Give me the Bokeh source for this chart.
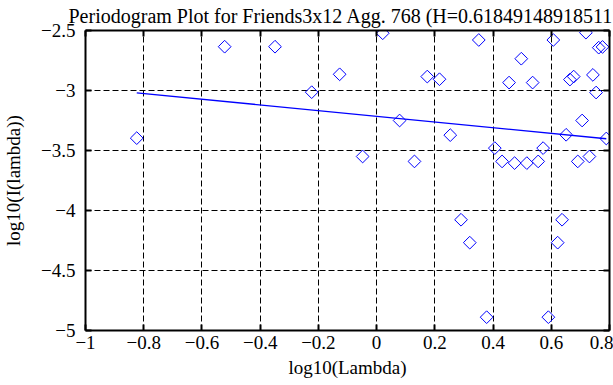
import numpy as np
from bokeh.plotting import figure
from bokeh.models import (LinearAxis, FixedTicker, CustomJSTickFormatter, Title,
                          ColumnDataSource)
from bokeh.embed import file_html
from bokeh.resources import INLINE

# ---- data ----
log_lambda = [-0.824, -0.522, -0.349, -0.223, -0.127, -0.048, 0.021, 0.079,
              0.130, 0.174, 0.216, 0.253, 0.290, 0.320, 0.351, 0.378, 0.406,
              0.431, 0.455, 0.474, 0.497, 0.516, 0.536, 0.555, 0.572, 0.590,
              0.607, 0.622, 0.637, 0.651, 0.664, 0.677, 0.691, 0.706, 0.719,
              0.731, 0.743, 0.754, 0.763, 0.776, 0.789]
log_I = [-3.397, -2.635, -2.635, -3.014, -2.865, -3.550, -2.523, -3.250,
         -3.591, -2.884, -2.906, -3.372, -4.077, -4.268, -2.579, -4.889, -3.480,
         -3.591, -2.934, -3.605, -2.735, -3.605, -2.934, -3.591, -3.480, -4.889,
         -2.579, -4.268, -4.077, -3.369, -2.909, -2.884, -3.591, -3.250, -2.518,
         -3.550, -2.870, -3.017, -2.643, -2.637, -3.400]
H = 0.618491489185117
fit_intercept = -3.215
x_ticks = [-1, -0.8, -0.6, -0.4, -0.2, 0, 0.2, 0.4, 0.6, 0.8]
y_ticks = [-5, -4.5, -4, -3.5, -3, -2.5]
title_text = "Periodogram Plot for Friends3x12 Agg. 768 (H=0.618491489185117)"
x_label = "log10(Lambda)"
y_label = "log10(I(lambda))"

FONT = "Liberation Serif"
FS = "19px"
BLUE = "#0000ff"

p = figure(width=613, height=385, x_range=(-1, 0.8), y_range=(-5, -2.5),
           output_backend="svg", toolbar_location=None,
           min_border_left=81, min_border_right=4, min_border_top=30,
           min_border_bottom=55, x_axis_location=None, y_axis_location=None)
p.outline_line_color = None
p.background_fill_color = "white"
p.border_fill_color = "white"

fmt = CustomJSTickFormatter(code="return tick < 0 ? '\u2212' + Math.abs(tick) : String(tick);")

def make_axis(ticks, labels=True):
    ax = LinearAxis(ticker=FixedTicker(ticks=ticks))
    ax.axis_line_width = 2
    ax.axis_line_color = "black"
    ax.major_tick_in = 6
    ax.major_tick_out = 0
    ax.major_tick_line_width = 2
    ax.minor_tick_line_color = None
    if labels:
        ax.formatter = fmt
        ax.major_label_text_font = FONT
        ax.major_label_text_font_size = FS
        ax.major_label_text_color = "black"
        ax.axis_label_text_font = FONT
        ax.axis_label_text_font_size = FS
        ax.axis_label_text_font_style = "normal"
        ax.axis_label_text_color = "black"
    else:
        ax.formatter = CustomJSTickFormatter(code="return '';")
        ax.major_label_text_font_size = "1px"
        ax.major_label_standoff = 0
    return ax

xb = make_axis(x_ticks)
xb.major_label_standoff = 5
xb.axis_label = x_label
xb.axis_label_standoff = 5
p.add_layout(xb, "below")
yl = make_axis(y_ticks)
yl.major_label_standoff = 10
yl.axis_label = y_label
yl.axis_label_standoff = 14
p.add_layout(yl, "left")
p.add_layout(make_axis(x_ticks, labels=False), "above")
p.add_layout(make_axis(y_ticks, labels=False), "right")

p.xgrid.ticker = FixedTicker(ticks=x_ticks)
p.ygrid.ticker = FixedTicker(ticks=y_ticks)
for g in (p.xgrid, p.ygrid):
    g.grid_line_color = "black"
    g.grid_line_dash = "6 3"
    g.grid_line_width = 1

src = ColumnDataSource(dict(x=log_lambda, y=log_I))
p.scatter("x", "y", source=src, marker="square", angle=np.pi / 4, size=9,
          fill_color=None, line_color=BLUE, line_width=1)

slope = 1 - 2 * H
fx = np.array([min(log_lambda), max(log_lambda)])
p.line(fx, fit_intercept + slope * fx, line_color=BLUE, line_width=1.3)

p.add_layout(Title(text=title_text, align="left", offset=-17, standoff=4,
                   vertical_align="top",
                   text_font=FONT, text_font_size="20px", text_font_style="normal",
                   text_color="black"), "above")

open("out.html", "w").write(file_html(p, INLINE))
